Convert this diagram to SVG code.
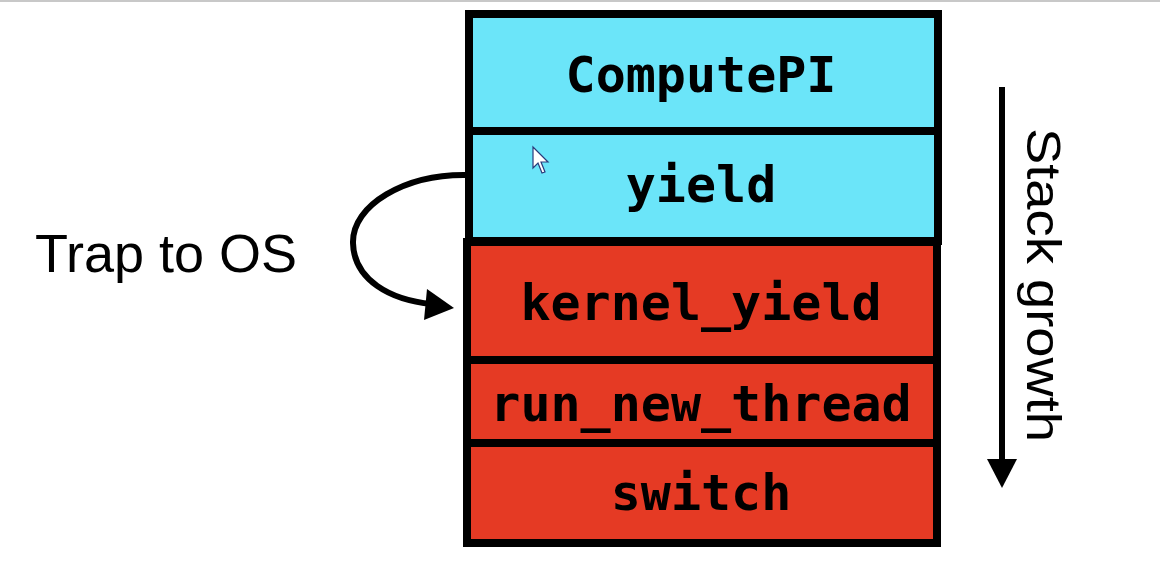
<svg xmlns="http://www.w3.org/2000/svg" width="1160" height="566" viewBox="0 0 1160 566">
  <style>
    .frame { stroke: #000; stroke-width: 8; }
    .user { fill: #6be5f9; }
    .kern { fill: #e53a24; }
    .code { font-family: "DejaVu Sans Mono", "Liberation Mono", monospace; font-weight: bold; font-size: 50px; fill: #000; text-anchor: middle; }
    .lbl { font-family: "Liberation Sans", Arial, sans-serif; fill: #000; }
  </style>
  <rect width="1160" height="566" fill="#fff"/>
  <line x1="0" y1="1" x2="1160" y2="1" stroke="#c8c8c8" stroke-width="2"/>

  <g id="computepi">
    <rect class="user frame" x="469" y="14" width="469" height="117"/>
    <text class="code" x="701" y="92">ComputePI</text>
  </g>
  <g id="yield">
    <rect class="user frame" x="469" y="131" width="469" height="110"/>
    <text class="code" x="701" y="202">yield</text>
  </g>
  <g id="kernel_yield">
    <rect class="kern frame" x="467" y="242" width="470" height="118"/>
    <text class="code" x="701" y="320">kernel_yield</text>
  </g>
  <g id="run_new_thread">
    <rect class="kern frame" x="467" y="360" width="470" height="83"/>
    <text class="code" x="701" y="421">run_new_thread</text>
  </g>
  <g id="switch">
    <rect class="kern frame" x="467" y="443" width="470" height="100"/>
    <text class="code" x="701" y="510">switch</text>
  </g>

  <g id="connectors">
    <path d="M467,175 C405,174 352,205 353,243 C354,280 390,300 432,304" fill="none" stroke="#000" stroke-width="6"/>
    <polygon points="454,308 427,289 424,320" fill="#000"/>
    <line x1="1002" y1="87" x2="1002" y2="462" stroke="#000" stroke-width="6"/>
    <polygon points="987,459 1017,459 1002,488" fill="#000"/>
  </g>

  <g id="trap-label">
    <text class="lbl" x="35" y="272" font-size="54">Trap to OS</text>
  </g>
  <g id="stack-label">
    <text class="lbl" x="1027" y="128" font-size="48" textLength="314" lengthAdjust="spacingAndGlyphs" transform="rotate(90 1027 128)">Stack growth</text>
  </g>

  <g id="cursor">
    <path d="M533,147 L533,168 L538,163 L542,173 L545,172 L541,162 L548,162 Z" fill="#fff" stroke="#2a3a7a" stroke-width="1.2"/>
  </g>
</svg>
